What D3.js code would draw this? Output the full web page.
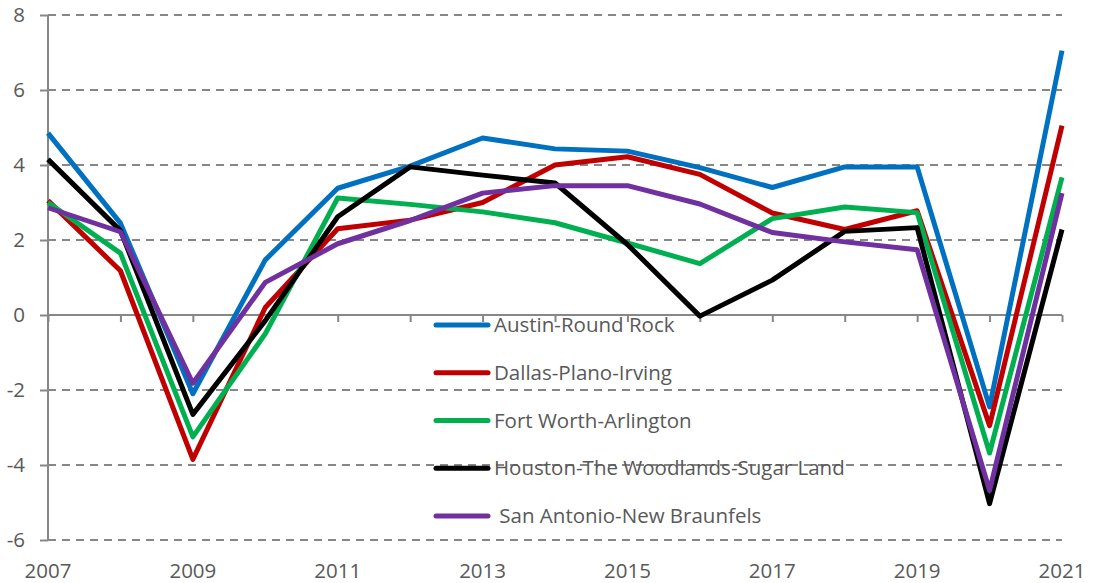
<!DOCTYPE html>
<html><head><meta charset="utf-8">
<script src="https://cdn.jsdelivr.net/npm/d3@7"></script>
<style>
html,body{margin:0;padding:0;background:#fff;}
svg{display:block;font-family:"Open Sans","Liberation Sans",sans-serif;}
</style></head>
<body>
<svg id="chart" width="1094" height="583"></svg>
<script>
const years = [2007,2008,2009,2010,2011,2012,2013,2014,2015,2016,2017,2018,2019,2020,2021];
const seriesNames = ["Austin-Round Rock","Dallas-Plano-Irving","Fort Worth-Arlington","Houston-The Woodlands-Sugar Land","San Antonio-New Braunfels"];
const legendLabels = ["Austin-Round Rock","Dallas-Plano-Irving","Fort Worth-Arlington","Houston-The Woodlands-Sugar Land"," San Antonio-New Braunfels"];
const austin     = [4.85, 2.45, -2.10, 1.47, 3.38, 3.97, 4.72, 4.43, 4.37, 3.93, 3.40, 3.95, 3.95, -2.45, 7.05];
const dallas     = [3.05, 1.18, -3.85, 0.20, 2.30, 2.53, 3.00, 4.00, 4.22, 3.75, 2.72, 2.28, 2.78, -2.95, 5.05];
const fortWorth  = [3.00, 1.65, -3.25, -0.50, 3.12, 2.95, 2.75, 2.46, 1.92, 1.37, 2.57, 2.88, 2.73, -3.68, 3.67];
const houston    = [4.15, 2.25, -2.65, -0.15, 2.62, 3.95, 3.73, 3.52, 1.88, -0.03, 0.93, 2.23, 2.33, -5.03, 2.28];
const sanAntonio = [2.86, 2.22, -1.82, 0.87, 1.90, 2.52, 3.25, 3.45, 3.45, 2.96, 2.20, 1.95, 1.74, -4.68, 3.25];
const yTicks = [-6,-4,-2,0,2,4,6,8];
const xTickLabels = [2007,2009,2011,2013,2015,2017,2019,2021];
const colors = ["#0070C0","#C00000","#00B050","#000000","#7030A0"];

const allValues = [austin, dallas, fortWorth, houston, sanAntonio];
const svg = d3.select("#chart");
const x = d3.scaleLinear().domain([2007,2021]).range([48,1062]);
const y = d3.scaleLinear().domain([-6,8]).range([540,15]);
const axisColor = "#878787", textColor = "#595959";

// gridlines (dashed), except zero
svg.append("g").selectAll("line").data(yTicks.filter(d=>d!==0)).join("line")
  .attr("x1", x(2007)).attr("x2", x(2021))
  .attr("y1", d=>y(d)).attr("y2", d=>y(d))
  .attr("stroke", axisColor).attr("stroke-width", 2).attr("stroke-dasharray","8,6");

// y axis
const yAxis = d3.axisLeft(y).tickValues(yTicks).tickSize(8).tickPadding(15).tickFormat(d=>String(d));
const gy = svg.append("g").attr("transform", `translate(${x(2007)},0)`).call(yAxis);
gy.select(".domain").attr("stroke", axisColor).attr("stroke-width", 2).attr("d", `M-0,${y(8)}V${y(-6)}`);
gy.selectAll(".tick line").attr("stroke", axisColor).attr("stroke-width", 2);
gy.selectAll(".tick text").attr("fill", textColor).attr("font-size", 20.5)
  .attr("font-family", '"Open Sans","Liberation Sans",sans-serif');

// x axis at zero with ticks each year
const xAxis = d3.axisBottom(x).tickValues(years).tickSize(7).tickFormat("");
const gx = svg.append("g").attr("transform", `translate(0,${y(0)})`).call(xAxis);
gx.select(".domain").attr("stroke", axisColor).attr("stroke-width", 2).attr("d", `M${x(2007)},0H${x(2021)}`);
gx.selectAll(".tick line").attr("stroke", axisColor).attr("stroke-width", 2);

// x labels at bottom
svg.append("g").selectAll("text").data(xTickLabels).join("text")
  .attr("x", d=>x(d)).attr("y", 578).attr("text-anchor","middle")
  .attr("fill", textColor).attr("font-size", 20.5).text(d=>d);

// lines
const line = d3.line().x((d,i)=>x(years[i])).y(d=>y(d));
svg.append("g").selectAll("path").data(allValues).join("path")
  .attr("d", d=>line(d)).attr("fill","none")
  .attr("stroke", (d,i)=>colors[i]).attr("stroke-width", 5)
  .attr("stroke-linejoin","round").attr("stroke-linecap","butt");

// legend
const legendY = d3.scaleLinear().domain([0,4]).range([325,516]);
const lg = svg.append("g").selectAll("g").data(seriesNames).join("g")
  .attr("transform", (d,i)=>`translate(0,${legendY(i)})`);
lg.append("line").attr("x1",436).attr("x2",488).attr("y1",0).attr("y2",0)
  .attr("stroke",(d,i)=>colors[i]).attr("stroke-width",5).attr("stroke-linecap","round");
lg.append("text").attr("x",494).attr("y",0).attr("dy","0.35em")
  .attr("fill",textColor).attr("font-size",20.5).style("white-space","pre")
  .text((d,i)=>legendLabels[i]);
</script>
</body></html>
